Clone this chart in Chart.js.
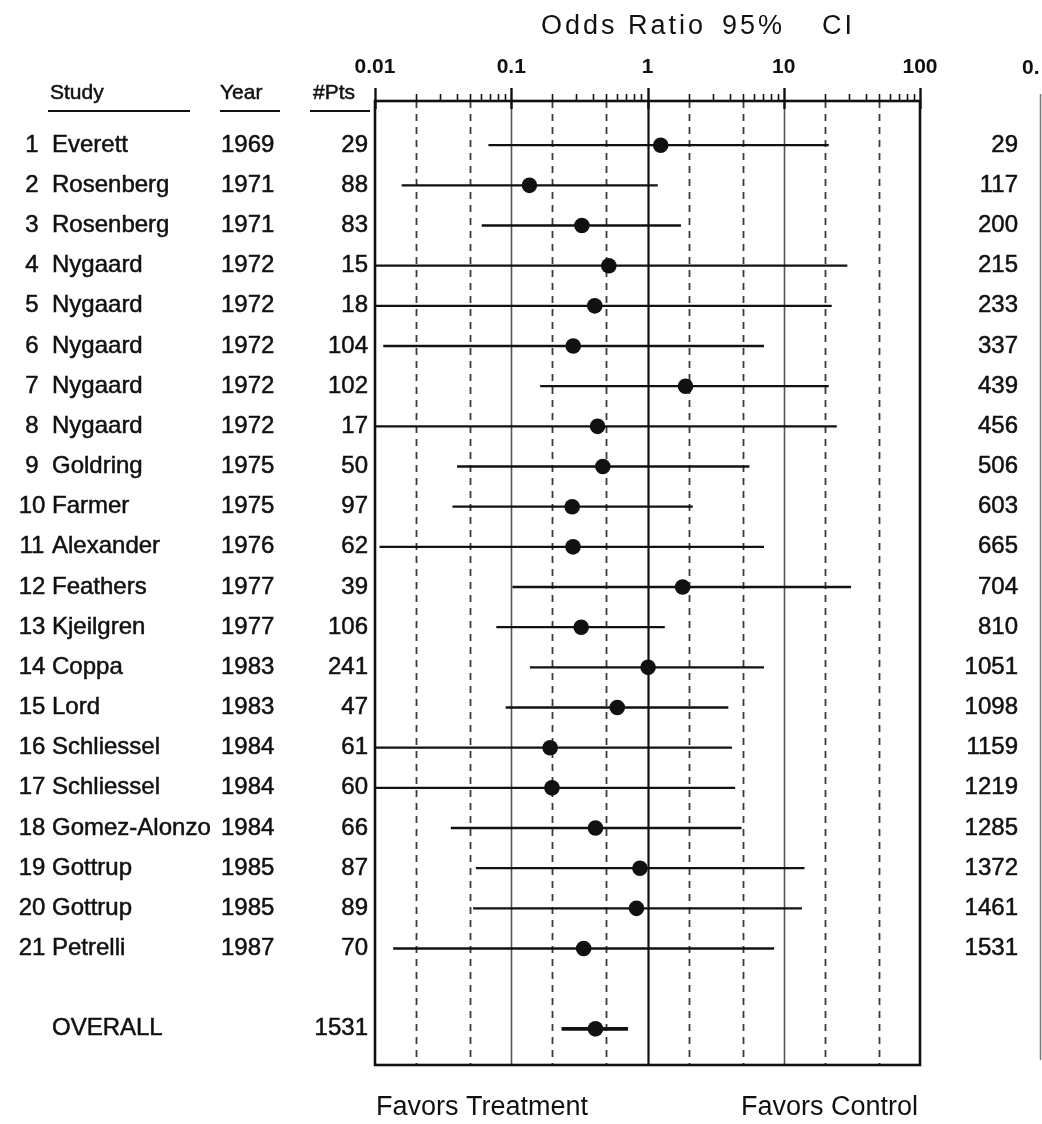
<!DOCTYPE html>
<html>
<head>
<meta charset="utf-8">
<style>
  html, body { margin: 0; padding: 0; background: #ffffff; }
  #wrap { width: 1042px; height: 1124px; position: relative; }
  canvas { display: block; }
</style>
<script src="https://cdn.jsdelivr.net/npm/chart.js@4.4.1/dist/chart.umd.min.js"></script>
</head>
<body>
<div id="wrap"><canvas id="forest" width="1042" height="1124"></canvas></div>
<script>
// ---- Trial table ----
const studyNames = ['Everett', 'Rosenberg', 'Rosenberg', 'Nygaard', 'Nygaard', 'Nygaard', 'Nygaard',
  'Nygaard', 'Goldring', 'Farmer', 'Alexander', 'Feathers', 'Kjeilgren', 'Coppa', 'Lord',
  'Schliessel', 'Schliessel', 'Gomez-Alonzo', 'Gottrup', 'Gottrup', 'Petrelli'];
const studyYears = [1969, 1971, 1971, 1972, 1972, 1972, 1972, 1972, 1975, 1975, 1976, 1977, 1977,
  1983, 1983, 1984, 1984, 1984, 1985, 1985, 1987];
const patients = [29, 88, 83, 15, 18, 104, 102, 17, 50, 97, 62, 39, 106, 241, 47, 61, 60, 66, 87, 89, 70];
const cumulativePatients = [29, 117, 200, 215, 233, 337, 439, 456, 506, 603, 665, 704, 810, 1051,
  1098, 1159, 1219, 1285, 1372, 1461, 1531];

// ---- Odds ratios with 95% confidence limits ----
const oddsRatio = [1.25, 0.136, 0.33, 0.52, 0.41, 0.285, 1.9, 0.43, 0.47, 0.28, 0.284, 1.81, 0.326,
  1.01, 0.60, 0.193, 0.199, 0.415, 0.88, 0.83, 0.34];
const ciLower = [0.068, 0.0157, 0.0607, 0.009, 0.009, 0.0115, 0.163, 0.009, 0.040, 0.037, 0.0108,
  0.102, 0.0777, 0.137, 0.091, 0.009, 0.009, 0.036, 0.055, 0.0525, 0.0136];
const ciUpper = [21.4, 1.19, 1.76, 29.3, 22.5, 7.16, 21.4, 24.5, 5.6, 2.15, 7.16, 31.2, 1.34, 7.16,
  3.92, 4.17, 4.4, 4.9, 14.2, 13.6, 8.5];

const overallLabel = 'OVERALL';
const overallPatients = 1531;
const overallOR = 0.415;
const overallLower = 0.234;
const overallUpper = 0.72;

// ---- Axis ----
const axisTicks = [0.01, 0.1, 1, 10, 100];
const solidLines = [0.1, 1, 10];
const dashedLines = [0.02, 0.05, 0.2, 0.5, 2, 5, 20, 50];

const OVERALL_ROW = 22;
const FONT = "'Liberation Sans', Arial, Helvetica, sans-serif";
const INK = '#111111';

const studyPoints = oddsRatio.map((v, i) => ({ x: v, y: i }));
const overallPoint = [{ x: overallOR, y: OVERALL_ROW }];

// filled text with a hairline outline for a slightly heavier print weight
function inkText(ctx, text, x, y) {
  ctx.fillText(text, x, y);
  ctx.strokeText(text, x, y);
}

const forestPlugin = {
  id: 'forestDecor',
  beforeDatasetsDraw(chart) {
    const { ctx, chartArea: a, scales: { x, y } } = chart;
    ctx.save();
    // reference lines inside the panel
    ctx.setLineDash([7, 6]);
    ctx.strokeStyle = '#3a3a3a';
    ctx.lineWidth = 1.8;
    dashedLines.forEach(v => {
      const px = Math.round(x.getPixelForValue(v)) + 0.5;
      ctx.beginPath(); ctx.moveTo(px, a.top); ctx.lineTo(px, a.bottom); ctx.stroke();
    });
    ctx.setLineDash([]);
    solidLines.forEach(v => {
      const px = Math.round(x.getPixelForValue(v)) + 0.5;
      ctx.strokeStyle = v === 1 ? INK : '#555555';
      ctx.lineWidth = v === 1 ? 2.2 : 1.6;
      ctx.beginPath(); ctx.moveTo(px, a.top); ctx.lineTo(px, a.bottom); ctx.stroke();
    });

    // confidence interval bars
    ctx.beginPath(); ctx.rect(a.left, a.top, a.right - a.left, a.bottom - a.top); ctx.clip();
    ctx.strokeStyle = INK;
    ctx.lineWidth = 2.3;
    for (let i = 0; i < oddsRatio.length; i++) {
      const py = y.getPixelForValue(i);
      ctx.beginPath();
      ctx.moveTo(x.getPixelForValue(ciLower[i]), py);
      ctx.lineTo(x.getPixelForValue(ciUpper[i]), py);
      ctx.stroke();
    }
    ctx.lineWidth = 3.6;
    const oy = y.getPixelForValue(OVERALL_ROW);
    ctx.beginPath();
    ctx.moveTo(x.getPixelForValue(overallLower), oy);
    ctx.lineTo(x.getPixelForValue(overallUpper), oy);
    ctx.stroke();
    ctx.restore();
  },
  afterDatasetsDraw(chart) {
    const { ctx, chartArea: a, scales: { x } } = chart;
    ctx.save();
    ctx.strokeStyle = INK;
    // panel frame
    ctx.lineWidth = 2.6;
    ctx.strokeRect(a.left, a.top, a.right - a.left, a.bottom - a.top);
    // top axis tick marks
    ctx.lineWidth = 1.6;
    for (let d = 0; d < axisTicks.length - 1; d++) {
      for (let k = 2; k <= 9; k++) {
        const px = Math.round(x.getPixelForValue(axisTicks[d] * k)) + 0.5;
        ctx.beginPath(); ctx.moveTo(px, a.top - 7); ctx.lineTo(px, a.top); ctx.stroke();
      }
    }
    ctx.lineWidth = 2.4;
    axisTicks.forEach(v => {
      const px = Math.round(x.getPixelForValue(v)) + 0.5;
      ctx.beginPath(); ctx.moveTo(px, a.top - 13); ctx.lineTo(px, a.top + 8); ctx.stroke();
    });
    ctx.restore();
  },
  afterDraw(chart) {
    const { ctx, scales: { y } } = chart;
    ctx.save();
    ctx.fillStyle = INK;
    ctx.strokeStyle = INK;
    ctx.lineWidth = 0.5;
    ctx.textBaseline = 'middle';

    // title
    ctx.font = `27px ${FONT}`;
    ctx.letterSpacing = '3px';
    ctx.textAlign = 'left';
    ctx.fillText('Odds Ratio', 541, 27);
    ctx.fillText('95%', 722, 27);
    ctx.fillText('CI', 822, 27);
    ctx.letterSpacing = '0px';

    // column headers
    ctx.font = `21px ${FONT}`;
    inkText(ctx, 'Study', 50, 93);
    inkText(ctx, 'Year', 220, 93);
    inkText(ctx, '#Pts', 313, 93);
    ctx.save();
    ctx.lineWidth = 2;
    [[48, 190], [220, 280], [310, 370]].forEach(([x0, x1]) => {
      ctx.beginPath(); ctx.moveTo(x0, 111); ctx.lineTo(x1, 111); ctx.stroke();
    });
    ctx.restore();

    // rows
    ctx.font = `24px ${FONT}`;
    for (let i = 0; i < studyNames.length; i++) {
      const py = y.getPixelForValue(i);
      ctx.textAlign = 'center';
      inkText(ctx, String(i + 1), 32, py);
      ctx.textAlign = 'left';
      inkText(ctx, studyNames[i], 52, py);
      inkText(ctx, String(studyYears[i]), 221, py);
      ctx.textAlign = 'right';
      inkText(ctx, String(patients[i]), 368, py);
      inkText(ctx, String(cumulativePatients[i]), 1018, py);
    }
    const oy = y.getPixelForValue(OVERALL_ROW);
    ctx.textAlign = 'left';
    inkText(ctx, overallLabel, 52, oy);
    ctx.textAlign = 'right';
    inkText(ctx, String(overallPatients), 368, oy);

    // footer
    ctx.font = `27px ${FONT}`;
    ctx.textAlign = 'left';
    ctx.fillText('Favors Treatment', 376, 1108);
    ctx.textAlign = 'right';
    ctx.fillText('Favors Control', 918, 1108);

    // edge of the adjoining panel
    ctx.font = `bold 21px ${FONT}`;
    ctx.textAlign = 'left';
    ctx.fillText('0.', 1022, 68);
    ctx.strokeStyle = '#777777';
    ctx.lineWidth = 1.5;
    ctx.beginPath(); ctx.moveTo(1040.5, 94); ctx.lineTo(1040.5, 1060); ctx.stroke();
    ctx.restore();
  }
};

new Chart(document.getElementById('forest'), {
  type: 'scatter',
  data: {
    datasets: [
      { data: studyPoints, pointRadius: 7.8, pointBackgroundColor: INK, pointBorderWidth: 0 },
      { data: overallPoint, pointRadius: 7.8, pointBackgroundColor: INK, pointBorderWidth: 0 }
    ]
  },
  options: {
    responsive: false,
    devicePixelRatio: 1,
    animation: false,
    events: [],
    layout: { padding: { left: 375, right: 122, top: 41, bottom: 59 } },
    plugins: { legend: { display: false }, tooltip: { enabled: false }, title: { display: false } },
    scales: {
      x: {
        type: 'logarithmic',
        position: 'top',
        min: 0.01,
        max: 100,
        grid: { display: false, drawTicks: false },
        border: { display: false },
        afterBuildTicks(scale) { scale.ticks = axisTicks.map(v => ({ value: v })); },
        afterFit(scale) { scale.height = 60; },
        ticks: {
          autoSkip: false,
          maxRotation: 0,
          padding: 21,
          color: INK,
          font: { family: FONT, size: 21, weight: 'bold' },
          callback: v => String(v)
        }
      },
      y: { type: 'linear', display: false, reverse: true, min: -1.1, max: 22.9 }
    }
  },
  plugins: [forestPlugin]
});
</script>
</body>
</html>
